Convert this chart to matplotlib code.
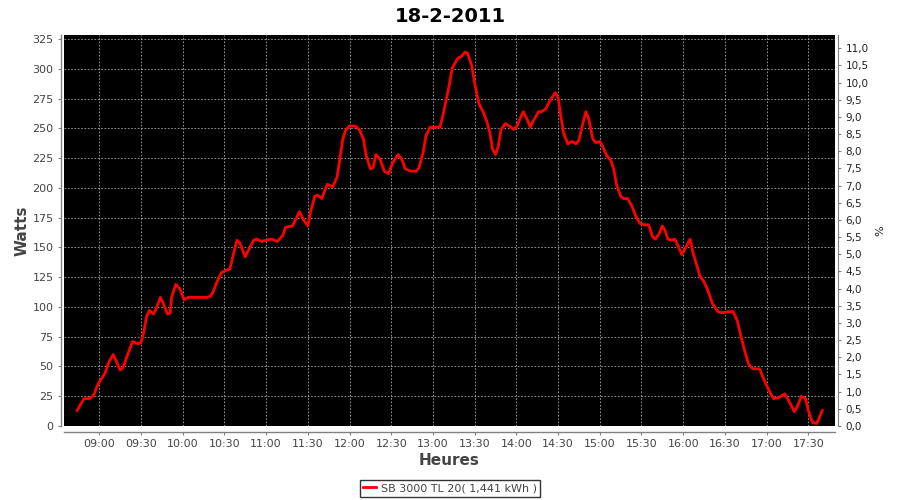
import matplotlib
matplotlib.use('Agg')
import matplotlib.pyplot as plt
import matplotlib.dates as mdates
import pandas as pd
from matplotlib.ticker import MultipleLocator, FuncFormatter


DAY = '2011-02-18'

TIMES = [
    '08:44', '08:49', '08:53', '08:56', '08:59', '09:04', '09:07', '09:10', '09:12', '09:15',
    '09:17', '09:21', '09:24', '09:28', '09:30', '09:32', '09:34', '09:36', '09:39', '09:41',
    '09:44', '09:46', '09:49', '09:51', '09:52', '09:55', '09:58', '10:01', '10:04', '10:09',
    '10:13', '10:17', '10:20', '10:22', '10:25', '10:28', '10:32', '10:34', '10:36', '10:39',
    '10:41', '10:45', '10:47', '10:51', '10:53', '10:57', '11:00', '11:04', '11:08', '11:12',
    '11:14', '11:19', '11:24', '11:27', '11:30', '11:32', '11:35', '11:37', '11:40', '11:44',
    '11:48', '11:51', '11:53', '11:55', '11:57', '12:00', '12:04', '12:07', '12:10', '12:12',
    '12:15', '12:17', '12:19', '12:22', '12:25', '12:28', '12:31', '12:35', '12:38', '12:40',
    '12:44', '12:48', '12:50', '12:53', '12:55', '12:58', '13:02', '13:05', '13:07', '13:11',
    '13:14', '13:18', '13:20', '13:23', '13:25', '13:28', '13:30', '13:33', '13:36', '13:39',
    '13:41', '13:43', '13:45', '13:47', '13:49', '13:52', '13:55', '13:58', '14:00', '14:03',
    '14:05', '14:08', '14:10', '14:12', '14:16', '14:18', '14:21', '14:24', '14:28', '14:30',
    '14:32', '14:34', '14:37', '14:40', '14:43', '14:45', '14:48', '14:50', '14:52', '14:55',
    '14:57', '15:00', '15:02', '15:05', '15:08', '15:10', '15:12', '15:15', '15:17', '15:20',
    '15:23', '15:26', '15:29', '15:32', '15:35', '15:36', '15:38', '15:40', '15:43', '15:45',
    '15:47', '15:49', '15:52', '15:54', '15:56', '15:59', '16:01', '16:05', '16:07', '16:10',
    '16:12', '16:15', '16:18', '16:21', '16:25', '16:28', '16:32', '16:36', '16:39', '16:41',
    '16:44', '16:47', '16:50', '16:55', '16:57', '17:00', '17:03', '17:05', '17:09', '17:13',
    '17:16', '17:20', '17:22', '17:25', '17:28', '17:30', '17:33', '17:36', '17:38', '17:40',
]

WATTS = [
    13, 23, 23, 26, 35, 44, 54, 60, 55, 47,
    49, 62, 71, 69, 70, 79, 92, 97, 94, 99,
    108, 103, 94, 95, 108, 119, 115, 106, 108, 108,
    108, 108, 109, 113, 122, 129, 131, 132, 142, 156,
    154, 142, 147, 156, 157, 155, 156, 157, 155, 160,
    167, 168, 180, 173, 168, 180, 193, 194, 191, 203,
    201, 209, 224, 240, 248, 252, 252, 249, 241, 227,
    216, 217, 228, 224, 214, 212, 221, 228, 223, 216,
    214, 214, 217, 230, 244, 251, 251, 251, 260, 282,
    301, 309, 310, 314, 313, 302, 288, 271, 264, 255,
    246, 232, 228, 235, 249, 254, 252, 249, 251, 259,
    264, 257, 251, 256, 264, 264, 266, 273, 280, 276,
    260, 246, 237, 239, 237, 240, 255, 264, 258, 241,
    238, 239, 235, 227, 223, 216, 203, 193, 191, 191,
    185, 176, 170, 169, 169, 166, 159, 157, 162, 168,
    164, 157, 156, 157, 152, 144, 148, 157, 146, 134,
    126, 121, 113, 103, 96, 95, 96, 96, 88, 78,
    64, 52, 48, 48, 42, 34, 27, 23, 24, 27,
    21, 12, 16, 25, 23, 13, 3, 2, 7, 13,
]

SERIES_LABEL = 'SB 3000 TL 20( 1,441 kWh )'
TITLE = '18-2-2011'

times = pd.to_datetime([f'{DAY} {t}' for t in TIMES])

fig = plt.figure(figsize=(9, 5), dpi=100)
fig.patch.set_facecolor('white')
ax = fig.add_axes([64 / 900, 1 - 426 / 500, (835 - 64) / 900, (426 - 35) / 500])
ax.set_facecolor('black')

line, = ax.plot(times, WATTS, color='#ff0000', lw=2.0, solid_joinstyle='round')

ax.set_xlim(pd.Timestamp(f'{DAY} 08:34:36'), pd.Timestamp(f'{DAY} 17:49:12'))
ax.set_ylim(0, 328.4)
ax.yaxis.set_major_locator(MultipleLocator(25))
ax.xaxis.set_major_locator(mdates.MinuteLocator(byminute=[0, 30]))
ax.xaxis.set_major_formatter(mdates.DateFormatter('%H:%M'))

ax.grid(True, color='#a8a8a8', linestyle=(0, (2, 2)), linewidth=0.6)

axis_col = '#808080'
text_col = '#444444'
for side in ['top', 'right']:
    ax.spines[side].set_visible(False)
ax.spines['left'].set_position(('outward', 2))
ax.spines['bottom'].set_position(('outward', 4))
for side in ['left', 'bottom']:
    ax.spines[side].set_color(axis_col)
    ax.spines[side].set_linewidth(1.0)
ax.tick_params(colors=axis_col, labelcolor=text_col, labelsize=8, length=2, width=0.8)

ax.set_ylabel('Watts', fontsize=11, fontweight='bold', color=text_col, labelpad=2)
ax.set_xlabel('Heures', fontsize=11, fontweight='bold', color=text_col, labelpad=3)

# right axis in percent
ax2 = ax.twinx()
ax2.set_ylim(0, 11.387)
ax2.yaxis.set_major_locator(MultipleLocator(0.5))
ax2.yaxis.set_major_formatter(FuncFormatter(lambda v, p: f'{v:.1f}'.replace('.', ',')))
for side in ['top', 'left', 'bottom']:
    ax2.spines[side].set_visible(False)
ax2.spines['right'].set_position(('outward', 2))
ax2.spines['right'].set_color(axis_col)
ax2.tick_params(colors=axis_col, labelcolor='#222222', labelsize=7.5, length=2, width=0.8)
ax2.set_ylabel('%', fontsize=8, color='#222222', rotation=90, labelpad=5)

fig.suptitle(TITLE, x=0.5, y=0.985, fontsize=14, fontweight='bold', color='black')

leg = fig.legend([line], [SERIES_LABEL], loc='lower center', bbox_to_anchor=(0.5, 0.0),
                 frameon=True, fancybox=False, fontsize=8, handlelength=1.2,
                 handletextpad=0.4, borderpad=0.3, borderaxespad=0.3)
leg.get_frame().set_edgecolor('black')
leg.get_frame().set_linewidth(1.0)
for t in leg.get_texts():
    t.set_color(text_col)

fig.savefig('out.png', dpi=100, facecolor='white')
